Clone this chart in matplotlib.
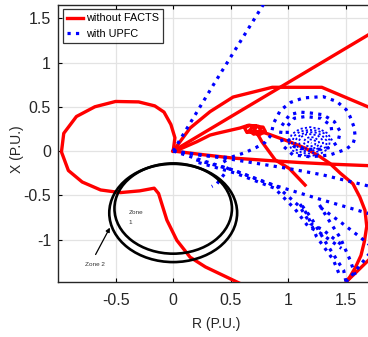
import matplotlib
matplotlib.use("Agg")
import matplotlib.pyplot as plt
from matplotlib.patches import Ellipse

plt.rcParams['font.family'] = ['Liberation Sans', 'DejaVu Sans']
plt.rcParams['axes.unicode_minus'] = False

# ---------------- data ----------------
# Red: without FACTS
red_loop_x = [0.0, 0.015, -0.02, -0.08, -0.16, -0.30, -0.50, -0.68, -0.84, -0.95, -0.97, -0.91, -0.79, -0.63, -0.46, -0.29, -0.165, -0.127, -0.055, 0.032, 0.147, 0.28, 0.57]
red_loop_y = [0.0, 0.15, 0.30, 0.44, 0.51, 0.555, 0.56, 0.50, 0.39, 0.20, -0.01, -0.22, -0.35, -0.44, -0.47, -0.45, -0.42, -0.48, -0.78, -1.01, -1.20, -1.31, -1.49]
red_line_x = [0.0, 0.58, 2.0]
red_line_y = [0.0, 0.45, 1.55]
red_arc_x = [0.0, 0.147, 0.32, 0.52, 0.86, 1.29, 1.69, 1.95]
red_arc_y = [0.0, 0.26, 0.445, 0.61, 0.72, 0.72, 0.50, 0.36]
red_loops_x = [0.02, 0.205, 0.32, 0.38, 0.58, 0.65, 0.72, 0.70, 0.64, 0.62, 0.66, 0.74, 0.76, 0.70, 0.66, 0.70, 0.78, 0.80, 0.74, 0.70, 0.76, 0.83, 1.0, 1.15, 1.27, 1.36, 1.45, 1.56, 1.62, 1.665, 1.68, 1.66, 1.63, 1.58, 1.535, 1.50, 1.58, 1.69, 1.8]
red_loops_y = [0.0, 0.105, 0.18, 0.20, 0.26, 0.29, 0.28, 0.22, 0.21, 0.26, 0.29, 0.28, 0.23, 0.19, 0.23, 0.28, 0.27, 0.22, 0.18, 0.21, 0.22, 0.19, 0.11, 0.03, -0.06, -0.14, -0.25, -0.37, -0.52, -0.67, -0.85, -1.02, -1.18, -1.32, -1.42, -1.48, -1.38, -1.24, -1.1]
red_branch_x = [0.72, 0.77, 0.885, 1.01, 1.145]
red_branch_y = [0.22, 0.105, -0.10, -0.20, -0.385]
red_flat_x = [0.0, 0.25, 0.52, 0.80, 1.10, 1.40, 1.69, 1.95]
red_flat_y = [0.0, -0.04, -0.08, -0.105, -0.13, -0.15, -0.165, -0.17]

# Blue: with UPFC
blue_ray_x = [0.0, 0.35, 0.78, 0.85]
blue_ray_y = [0.0, 0.75, 1.65, 1.80]
blue_spiral_x = [0.0, 0.25, 0.49, 0.62, 0.72, 0.80, 0.85, 0.87, 0.93, 1.02, 1.13, 1.30, 1.42, 1.50, 1.535, 1.57, 1.58, 1.56, 1.50, 1.36, 1.19, 1.04, 0.96, 0.93, 0.94, 1.01, 1.10, 1.19, 1.30, 1.40, 1.45, 1.43, 1.36, 1.275, 1.15, 1.05, 0.99, 0.99, 1.05, 1.15, 1.28, 1.37, 1.38]
blue_spiral_y = [0.0, -0.05, -0.075, -0.02, 0.04, 0.10, 0.18, 0.31, 0.46, 0.55, 0.60, 0.615, 0.56, 0.47, 0.39, 0.27, 0.16, 0.08, 0.02, -0.045, -0.065, -0.045, 0.05, 0.17, 0.28, 0.41, 0.44, 0.43, 0.41, 0.33, 0.22, 0.10, 0.04, 0.02, 0.02, 0.05, 0.14, 0.28, 0.37, 0.39, 0.37, 0.29, 0.18]
blue_blob_x = [1.38, 1.34, 1.27, 1.19, 1.10, 1.03, 1.00, 1.03, 1.10, 1.19, 1.28, 1.35,
               1.36, 1.31, 1.25, 1.18, 1.10, 1.05, 1.03, 1.06, 1.12, 1.19, 1.27, 1.33,
               1.33, 1.29, 1.23, 1.17, 1.11, 1.07, 1.06, 1.09, 1.14, 1.20, 1.26, 1.30,
               1.30, 1.26, 1.21, 1.16, 1.11, 1.09, 1.10, 1.14, 1.19, 1.24, 1.27,
               1.26, 1.23, 1.19, 1.15, 1.13, 1.15, 1.19, 1.23, 1.24, 1.21, 1.18, 1.17, 1.20]
blue_blob_y = [0.12, 0.20, 0.25, 0.27, 0.25, 0.19, 0.10, 0.01, -0.04, -0.06, -0.03, 0.03,
               0.12, 0.20, 0.23, 0.24, 0.22, 0.17, 0.09, 0.02, -0.02, -0.03, 0.0, 0.05,
               0.12, 0.18, 0.21, 0.215, 0.19, 0.14, 0.08, 0.03, 0.0, 0.0, 0.03, 0.07,
               0.12, 0.17, 0.19, 0.19, 0.16, 0.11, 0.06, 0.03, 0.02, 0.04, 0.08,
               0.12, 0.15, 0.16, 0.14, 0.10, 0.06, 0.05, 0.07, 0.11, 0.13, 0.13, 0.10, 0.09]
blue_a_x = [0.0, 0.25, 0.49, 1.01, 1.30, 1.71, 1.95]
blue_a_y = [0.0, -0.045, -0.09, -0.20, -0.27, -0.40, -0.46]
blue_b_x = [0.0, 0.26, 0.52, 0.81, 1.01, 1.30, 1.68, 1.95]
blue_b_y = [0.0, -0.11, -0.215, -0.36, -0.44, -0.555, -0.70, -0.80]
blue_short_x = [0.44, 0.48, 0.45, 0.38, 0.335]
blue_short_y = [-0.10, -0.18, -0.25, -0.37, -0.40]
blue_fuzzy_x = [0.20, 0.52, 0.90, 1.10, 1.19, 1.30, 1.48]
blue_fuzzy_y = [-0.10, -0.215, -0.40, -0.63, -0.82, -0.89, -1.08]
blue_fuzzy2_x = [0.22, 0.54, 0.88, 1.06, 1.17, 1.28, 1.46]
blue_fuzzy2_y = [-0.13, -0.25, -0.42, -0.66, -0.85, -0.93, -1.10]
blue_f1_x = [1.10, 1.16, 1.245, 1.39, 1.45]
blue_f1_y = [-0.60, -0.71, -0.97, -1.23, -1.42]
blue_f2_x = [1.12, 1.19, 1.33, 1.48, 1.50]
blue_f2_y = [-0.62, -0.74, -1.045, -1.35, -1.48]
blue_f3_x = [1.27, 1.35, 1.45, 1.535, 1.58]
blue_f3_y = [-0.61, -0.78, -0.98, -1.23, -1.40]
blue_f4_x = [1.28, 1.45, 1.60, 1.69, 1.8]
blue_f4_y = [-0.64, -0.80, -0.95, -1.045, -1.15]
blue_f5_x = [1.50, 1.58, 1.69, 1.8]
blue_f5_y = [-1.48, -1.36, -1.18, -1.02]

zone_centers_y = [-0.65, -0.70]
zone_radii = [0.51, 0.555]

x_ticks = [-0.5, 0, 0.5, 1, 1.5]
x_tick_labels = ['-0.5', '0', '0.5', '1', '1.5']
y_ticks = [-1, -0.5, 0, 0.5, 1, 1.5]
y_tick_labels = ['-1', '-0.5', '0', '0.5', '1', '1.5']

# ---------------- plot ----------------
fig = plt.figure(figsize=(3.68, 3.37), dpi=100)
ax = fig.add_axes([58 / 368, 55 / 337, 345.6 / 368, 277 / 337])
ax.set_xlim(-1.0, 2.0)
ax.set_ylim(-1.48, 1.65)

RED = '#ff0000'
BLUE = '#0000ff'
rlw = 2.4
blw = 2.3

red_sets = [(red_loop_x, red_loop_y), (red_line_x, red_line_y), (red_arc_x, red_arc_y),
            (red_loops_x, red_loops_y), (red_branch_x, red_branch_y), (red_flat_x, red_flat_y)]
blue_sets = [(blue_ray_x, blue_ray_y), (blue_spiral_x, blue_spiral_y), (blue_a_x, blue_a_y),
             (blue_b_x, blue_b_y), (blue_short_x, blue_short_y), (blue_fuzzy_x, blue_fuzzy_y),
             (blue_fuzzy2_x, blue_fuzzy2_y), (blue_f1_x, blue_f1_y), (blue_f2_x, blue_f2_y),
             (blue_f3_x, blue_f3_y), (blue_f4_x, blue_f4_y), (blue_f5_x, blue_f5_y)]

for i, (xs, ys) in enumerate(red_sets):
    ax.plot(xs, ys, color=RED, lw=rlw, solid_joinstyle='round', zorder=3,
            label='without FACTS' if i == 0 else None)
for i, (xs, ys) in enumerate(blue_sets):
    ax.plot(xs, ys, color=BLUE, lw=blw, ls=':', zorder=4,
            label='with UPFC' if i == 0 else None)
ax.plot(blue_blob_x, blue_blob_y, color=BLUE, lw=1.3, ls=(0, (1.2, 1.2)), zorder=4)

for cy, r in zip(zone_centers_y, zone_radii):
    ax.add_patch(Ellipse((0.0, cy), 2 * r, 2 * r, fill=False, ec='black', lw=1.9, zorder=5))

ax.text(-0.39, -0.70, 'Zone', fontsize=4.6, color='#333333', va='center', ha='left', zorder=6)
ax.text(-0.385, -0.81, '1', fontsize=4.6, color='#333333', va='center', ha='left', zorder=6)
ax.text(-0.676, -1.28, 'Zone 2', fontsize=4.6, color='#333333', va='center', ha='center', zorder=6)
ax.annotate('', xy=(-0.538, -0.838), xytext=(-0.685, -1.197),
            arrowprops=dict(arrowstyle='-|>', color='black', lw=0.9, mutation_scale=6), zorder=6)

ax.set_xticks(x_ticks)
ax.set_xticklabels(x_tick_labels)
ax.set_yticks(y_ticks)
ax.set_yticklabels(y_tick_labels)
ax.tick_params(direction='in', top=True, right=True, length=3, width=0.8,
               labelsize=11.5, labelcolor='#262626')
ax.tick_params(axis='x', pad=8)
ax.tick_params(axis='y', pad=5)
ax.grid(True, color='#e3e3e3', lw=0.9, zorder=0)
ax.set_axisbelow(True)
for s in ax.spines.values():
    s.set_linewidth(1.0)
    s.set_color('#262626')

ax.set_xlabel('R (P.U.)', fontsize=10, color='#262626')
ax.set_ylabel('X (P.U.)', fontsize=10, color='#262626')
ax.xaxis.set_label_coords((216 - 58) / 345.6, -0.125)
ax.yaxis.set_label_coords(-0.098, 0.48)

leg = ax.legend(loc='upper left', bbox_to_anchor=(5 / 345.6, 1 - 4 / 277), borderaxespad=0,
                fontsize=7.8, frameon=True, fancybox=False, handlelength=1.4,
                handletextpad=0.3, borderpad=0.4, labelspacing=0.5)
leg.get_frame().set_edgecolor('black')
leg.get_frame().set_linewidth(0.9)

fig.savefig('out.png', dpi=100)
